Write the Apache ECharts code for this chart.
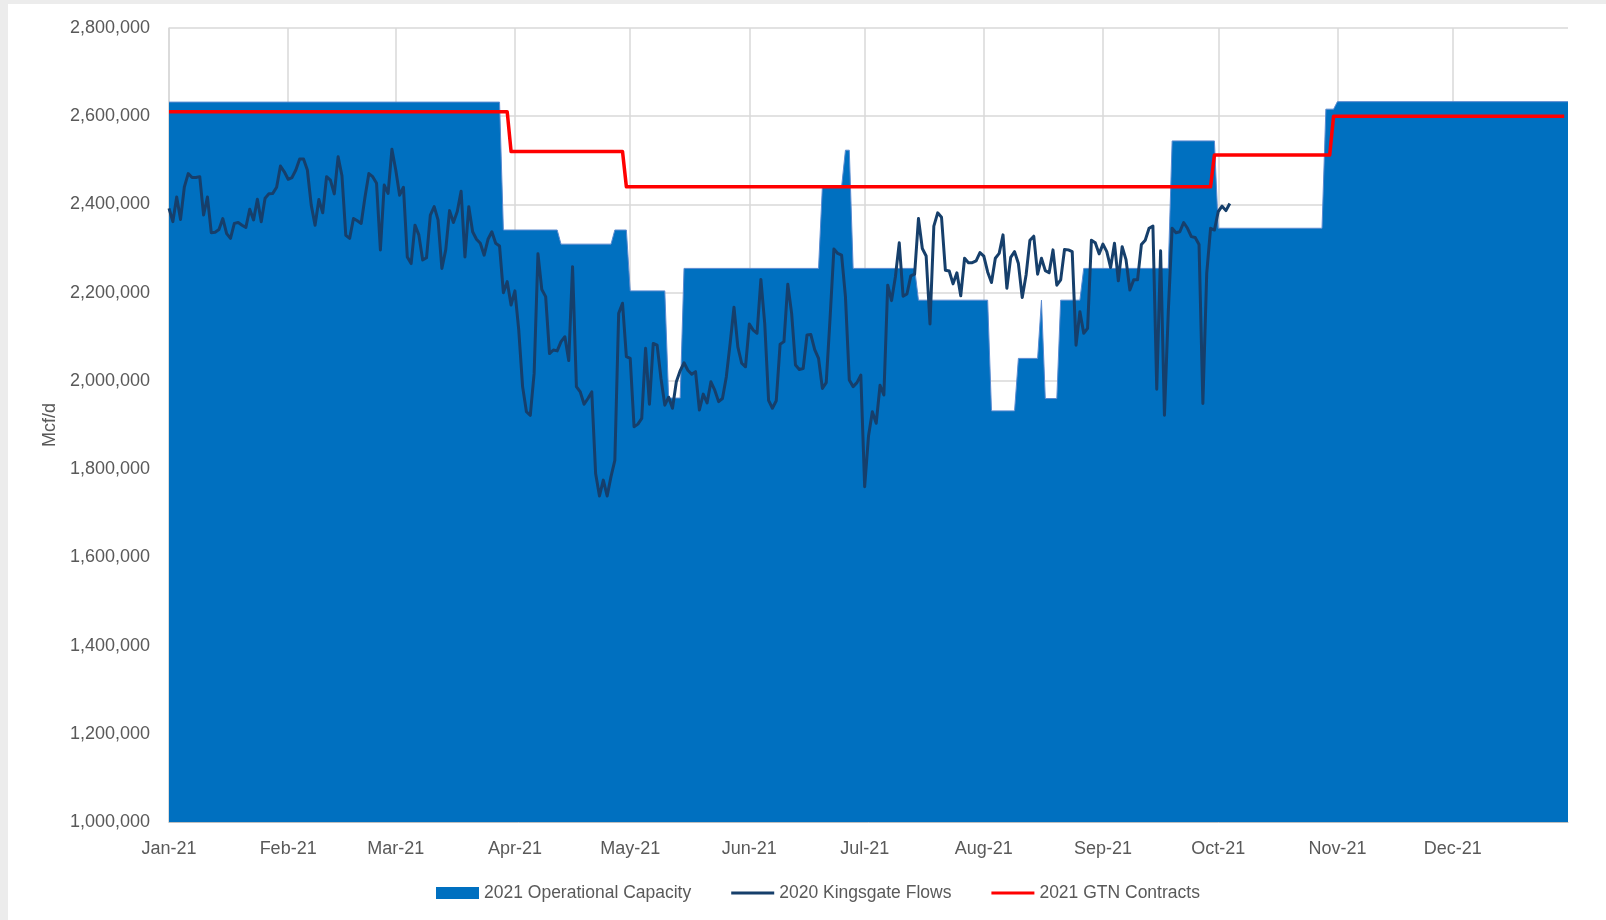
<!DOCTYPE html>
<html>
<head>
<meta charset="utf-8">
<script src="https://cdn.jsdelivr.net/npm/echarts@6/dist/echarts.min.js"></script>
<style>
html,body{margin:0;padding:0;width:1606px;height:920px;overflow:hidden;background:#ececec;}
#frame{position:absolute;left:8px;top:4px;right:0;bottom:0;background:#ffffff;}
#chart{position:absolute;left:0;top:0;width:1606px;height:920px;}
</style>
</head>
<body>
<div id="frame"></div>
<div id="chart"></div>
<script>
// ---- Data ----
const monthNames = ['Jan','Feb','Mar','Apr','May','Jun','Jul','Aug','Sep','Oct','Nov','Dec'];

// 2021 Operational Capacity (breakpoints; flat between them)
const capacityDates = [
  '2021-01-01','2021-03-28','2021-03-29','2021-04-12','2021-04-13','2021-04-26','2021-04-27','2021-04-30',
  '2021-05-01','2021-05-10','2021-05-11','2021-05-14','2021-05-15','2021-06-19','2021-06-20','2021-06-25',
  '2021-06-26','2021-06-27','2021-06-28','2021-07-14','2021-07-15','2021-08-02','2021-08-03','2021-08-09',
  '2021-08-10','2021-08-15','2021-08-16','2021-08-17','2021-08-20','2021-08-21','2021-08-26','2021-08-27',
  '2021-09-18','2021-09-19','2021-09-30','2021-10-01','2021-10-28','2021-10-29','2021-10-31','2021-11-01',
  '2021-12-31'
];
const capacityValues = [
  2632000,2632000,2342000,2342000,2310000,2310000,2342000,2342000,
  2204000,2204000,1961000,1961000,2255000,2255000,2440000,2440000,
  2523000,2523000,2255000,2255000,2183000,2183000,1932000,1932000,
  2051000,2051000,2183000,1960000,1960000,2183000,2183000,2255000,
  2255000,2544000,2544000,2346000,2346000,2616000,2616000,2633000,
  2633000
];

// 2021 GTN Contracts (breakpoints)
const contractDates = [
  '2021-01-01','2021-03-30','2021-03-31','2021-04-29','2021-04-30','2021-09-29','2021-09-30',
  '2021-10-30','2021-10-31','2021-12-30'
];
const contractValues = [
  2610000,2610000,2520000,2520000,2440000,2440000,2512000,
  2512000,2600000,2600000
];

// 2020 Kingsgate Flows, daily from Jan 1
const kingsgateFlows = [
  2391000,2361000,2417000,2366000,2440000,2470000,2461000,2461000,2463000,2376000,
  2417000,2336000,2337000,2343000,2368000,2334000,2323000,2357000,2359000,2353000,
  2348000,2389000,2365000,2412000,2361000,2414000,2424000,2425000,2439000,2487000,
  2474000,2457000,2461000,2478000,2503000,2503000,2478000,2399000,2353000,2411000,
  2381000,2463000,2455000,2424000,2508000,2465000,2330000,2323000,2368000,2363000,
  2357000,2417000,2470000,2463000,2448000,2297000,2444000,2425000,2525000,2478000,
  2421000,2439000,2281000,2266000,2353000,2331000,2274000,2279000,2376000,2395000,
  2365000,2255000,2297000,2386000,2359000,2384000,2430000,2281000,2395000,2338000,
  2321000,2312000,2285000,2321000,2338000,2312000,2306000,2200000,2225000,2172000,
  2204000,2115000,1987000,1930000,1922000,2017000,2288000,2207000,2191000,2062000,
  2070000,2068000,2089000,2100000,2046000,2259000,1987000,1975000,1947000,1960000,
  1975000,1790000,1739000,1775000,1739000,1783000,1820000,2153000,2176000,2055000,
  2051000,1896000,1902000,1915000,2074000,1947000,2085000,2081000,2006000,1945000,
  1963000,1938000,1998000,2023000,2041000,2024000,2015000,2021000,1934000,1970000,
  1950000,1998000,1979000,1953000,1960000,2009000,2085000,2167000,2077000,2040000,
  2032000,2129000,2115000,2108000,2230000,2130000,1956000,1938000,1955000,2083000,
  2089000,2219000,2153000,2036000,2026000,2028000,2104000,2105000,2071000,2051000,
  1983000,1996000,2142000,2299000,2289000,2285000,2191000,2002000,1987000,1996000,
  2013000,1760000,1875000,1930000,1904000,1990000,1968000,2217000,2182000,2236000,
  2313000,2192000,2197000,2238000,2242000,2368000,2300000,2283000,2129000,2351000,
  2381000,2371000,2251000,2249000,2220000,2245000,2193000,2278000,2268000,2268000,
  2272000,2291000,2283000,2247000,2223000,2278000,2289000,2331000,2210000,2280000,
  2293000,2266000,2189000,2240000,2319000,2328000,2242000,2278000,2250000,2245000,
  2297000,2217000,2229000,2298000,2297000,2293000,2081000,2157000,2108000,2119000,
  2319000,2313000,2288000,2310000,2293000,2257000,2312000,2227000,2304000,2275000,
  2206000,2229000,2229000,2309000,2319000,2346000,2351000,1981000,2295000,1922000,
  2157000,2346000,2336000,2338000,2359000,2346000,2327000,2325000,2309000,1949000,
  2244000,2346000,2342000,2384000,2396000,2386000,2402000
];

// ---- Build categories (every day of 2021) ----
const categories = [];
for (let t = Date.UTC(2021,0,1); t <= Date.UTC(2021,11,31); t += 86400000) {
  categories.push(new Date(t).toISOString().slice(0,10));
}
const isMonthStart = (idx, val) => String(val).slice(8) === '01';
const monthLabel = (val) => {
  const m = parseInt(val.slice(5,7),10) - 1;
  return monthNames[m] + '-' + val.slice(2,4);
};
const pairs = (dates, vals) => dates.map((d,i) => [d, vals[i]]);

const FONT = '"Liberation Sans", Arial, sans-serif';
const TXT = '#595959';

const chart = echarts.init(document.getElementById('chart'), null, {renderer:'canvas'});
chart.setOption({
  animation: false,
  backgroundColor: 'transparent',
  grid: {left:169, right:38, top:28, bottom:98, containLabel:false, outerBoundsMode:'none'},
  xAxis: {
    type:'category',
    data: categories,
    boundaryGap:false,
    axisLine:{show:true, lineStyle:{color:'#bfbfbf', width:1}},
    axisTick:{show:false, interval:isMonthStart},
    axisLabel:{interval:isMonthStart, formatter:monthLabel, color:TXT, fontSize:18, fontFamily:FONT, margin:18},
    splitLine:{show:true, interval:isMonthStart, lineStyle:{color:'#d9d9d9', width:1.5}}
  },
  yAxis: {
    type:'value',
    min:1000000, max:2800000, interval:200000,
    name:'Mcf/d', nameLocation:'middle', nameGap:110, nameRotate:90,
    nameTextStyle:{color:TXT, fontSize:18, fontFamily:FONT},
    axisLine:{show:true, lineStyle:{color:'#d9d9d9', width:1.5}},
    axisTick:{show:false},
    axisLabel:{color:TXT, fontSize:18, fontFamily:FONT, margin:19, padding:[4,0,0,0],
      formatter:(v)=>v.toLocaleString('en-US')},
    splitLine:{show:true, lineStyle:{color:'#d9d9d9', width:1.5}}
  },
  legend: {
    left:436, top:884, padding:0, orient:'horizontal',
    itemWidth:43, itemHeight:12, itemGap:40,
    textStyle:{color:TXT, fontSize:17.5, fontFamily:FONT},
    data:[
      {name:'2021 Operational Capacity', icon:'rect', itemStyle:{color:'#0070C0'}},
      {name:'2020 Kingsgate Flows', icon:'path://M0,0H43V3H0Z', itemStyle:{color:'#163f6b'}},
      {name:'2021 GTN Contracts', icon:'path://M0,0H43V3H0Z', itemStyle:{color:'#ff0000'}}
    ]
  },
  series: [
    {
      name:'2021 Operational Capacity', type:'line', z:1,
      data: pairs(capacityDates, capacityValues),
      symbol:'none', smooth:false,
      itemStyle:{color:'#0070C0'},
      lineStyle:{color:'#5a8ad0', width:1},
      areaStyle:{color:'#0070C0', opacity:1, origin:'start'}
    },
    {
      name:'2020 Kingsgate Flows', type:'line', z:3,
      data: kingsgateFlows,
      symbol:'none', smooth:false,
      itemStyle:{color:'#163f6b'},
      lineStyle:{color:'#163f6b', width:3, join:'round'}
    },
    {
      name:'2021 GTN Contracts', type:'line', z:2,
      data: pairs(contractDates, contractValues),
      symbol:'none', smooth:false,
      itemStyle:{color:'#ff0000'},
      lineStyle:{color:'#ff0000', width:3.5, join:'round'}
    }
  ]
});
</script>
</body>
</html>
